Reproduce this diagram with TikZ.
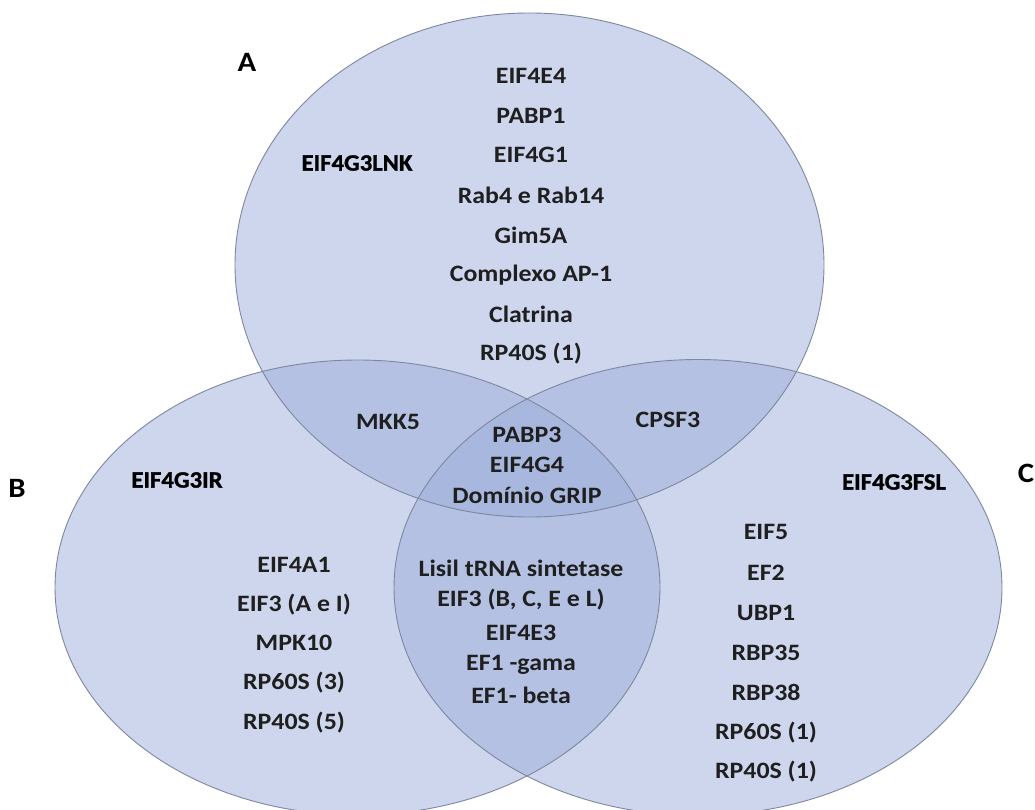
\documentclass[tikz,border=0pt]{standalone}
\usepackage{fontspec}
\setmainfont{Carlito}[FakeStretch=1.1]
\newfontfamily\titlefont{Carlito}[FakeStretch=1.05, BoldFeatures={FakeBold=1.2}]
\definecolor{vennblue}{RGB}{155,173,217}
\definecolor{vennline}{RGB}{125,135,160}
\begin{document}
\begin{tikzpicture}[x=1pt,y=-1pt,
  setfill/.style={fill=vennblue, fill opacity=0.5},
  setline/.style={draw=vennline, line width=0.9pt},
  item/.style={font=\bfseries\fontsize{23.5}{26}\selectfont, inner sep=0pt, text=black!88},
  settitle/.style={font=\titlefont\bfseries\fontsize{23.5}{26}\selectfont, inner sep=0pt, text=black},
  letter/.style={font=\bfseries\fontsize{28}{30}\selectfont, inner sep=0pt, text=black}]
\useasboundingbox (0,0) rectangle (1035,810);
% sets
\fill[setfill] (529.5,265) ellipse [x radius=294.5, y radius=252];
\fill[setfill] (357.5,587.5) ellipse [x radius=302.5, y radius=227.5];
\fill[setfill] (698,587.5) ellipse [x radius=304, y radius=228];
\draw[setline] (529.5,265) ellipse [x radius=294.5, y radius=252];
\draw[setline] (357.5,587.5) ellipse [x radius=302.5, y radius=227.5];
\draw[setline] (698,587.5) ellipse [x radius=304, y radius=228];
% set letters
\node[letter] (lA) at (247,62) {A};
\node[letter] (lB) at (17,488) {B};
\node[letter] (lC) at (1026,473) {C};
% titles
\node[settitle] (tA) at (357,163) {EIF4G3LNK};
\node[settitle] (tB) at (177,480) {EIF4G3IR};
\node[settitle] (tC) at (894,482) {EIF4G3FSL};
% A only
\node[item] (a1) at (531,76) {EIF4E4};
\node[item] (a2) at (531,115.5) {PABP1};
\node[item] (a3) at (531,155) {EIF4G1};
\node[item] (a4) at (531,195) {Rab4 e Rab14};
\node[item] (a5) at (531,235) {Gim5A};
\node[item] (a6) at (531,275) {Complexo AP-1};
\node[item] (a7) at (531,314) {Clatrina};
\node[item] (a8) at (531,354) {RP40S (1)};
% pairwise with A
\node[item] (ab) at (388,422) {MKK5};
\node[item] (ac) at (668,420) {CPSF3};
% triple
\node[item] (t1) at (527,435) {PABP3};
\node[item] (t2) at (527,465) {EIF4G4};
\node[item] (t3) at (527,495) {Domínio GRIP};
% B and C
\node[item] (bc1) at (521,568) {Lisil tRNA sintetase};
\node[item] (bc2) at (521,600) {EIF3 (B, C, E e L)};
\node[item] (bc3) at (521,633) {EIF4E3};
\node[item] (bc4) at (521,665) {EF1 -gama};
\node[item] (bc5) at (521,695) {EF1- beta};
% B only
\node[item] (b1) at (294,565) {EIF4A1};
\node[item] (b2) at (294,605) {EIF3 (A e I)};
\node[item] (b3) at (294,643) {MPK10};
\node[item] (b4) at (294,683) {RP60S (3)};
\node[item] (b5) at (294,723) {RP40S (5)};
% C only
\node[item] (c1) at (766,532) {EIF5};
\node[item] (c2) at (766,573) {EF2};
\node[item] (c3) at (766,613) {UBP1};
\node[item] (c4) at (766,653) {RBP35};
\node[item] (c5) at (766,692) {RBP38};
\node[item] (c6) at (766,733) {RP60S (1)};
\node[item] (c7) at (766,772) {RP40S (1)};
\end{tikzpicture}
\end{document}
